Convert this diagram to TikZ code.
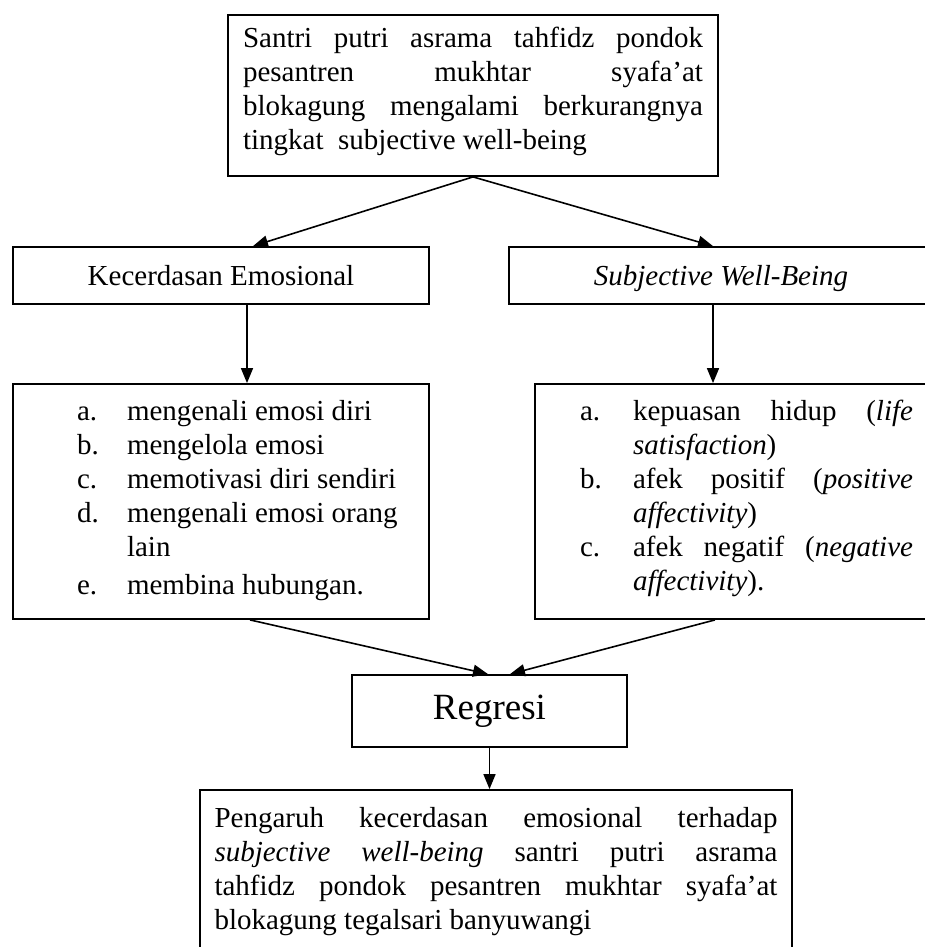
\documentclass[tikz,border=0pt]{standalone}
\usepackage{fontspec}
\setmainfont{Liberation Serif}
\usepackage{enumitem}
\usetikzlibrary{arrows.meta}
\tolerance=10000
\hbadness=10000
\hyphenpenalty=10000
\exhyphenpenalty=10000
\setlist[enumerate]{label=\alph*.,labelsep=10pt,align=left,topsep=0pt,partopsep=0pt,itemsep=0pt,parsep=0pt}

\begin{document}
\begin{tikzpicture}[x=1pt,y=-1pt,
  box/.style={draw,line width=1.8pt,inner sep=0pt,font=\fontsize{29}{34}\selectfont},
  para/.style={box,align=justify},
  arr/.style={line width=1.6pt,-{Triangle[length=15pt,width=12pt]}}]
\useasboundingbox (0,0) rectangle (925,947);
% nodes
\node [box,minimum width=490pt] (top) at (473,95.5) {%
  \begin{minipage}[c][161pt][t]{460pt}\vspace*{12pt}%
  Santri putri asrama tahfidz pondok\linebreak pesantren mukhtar syafa’at\linebreak blokagung mengalami berkurangnya\linebreak tingkat\ \ subjective well-being
  \end{minipage}};

\node [box,minimum width=416pt,minimum height=57pt,text height=19.5pt,text depth=0pt] (ke) at (221,275.5) {Kecerdasan Emosional};
\node [box,minimum width=424pt,minimum height=57pt,text height=19.5pt,text depth=0pt] (swb) at (721,275.5) {\textit{Subjective Well-Being}};

\node [box] (kelist) at (221,501.5) {%
  \begin{minipage}[c][235pt][t]{416pt}\vspace*{16pt}%
  \begin{enumerate}[labelindent=64pt,leftmargin=114pt,labelwidth=40pt,rightmargin=19pt]
  \item mengenali emosi diri
  \item mengelola emosi
  \item memotivasi diri sendiri
  \item mengenali emosi orang\\lain
  \vspace{4pt}
  \item membina hubungan.
  \end{enumerate}
  \hbox to\hsize{}
  \end{minipage}};

\node [box] (swblist) at (738,501.5) {%
  \begin{minipage}[c][235pt][t]{406pt}\vspace*{16pt}%
  \begin{enumerate}[labelindent=45pt,leftmargin=98pt,labelwidth=43pt,rightmargin=28pt]
  \item kepuasan hidup (\textit{life}\linebreak \textit{satisfaction})
  \item afek positif (\textit{positive}\linebreak \textit{affectivity})
  \item afek negatif (\textit{negative}\linebreak \textit{affectivity}).
  \end{enumerate}
  \hbox to\hsize{}
  \end{minipage}};

\node [box,minimum width=275pt,minimum height=72pt,font=\fontsize{37}{44}\selectfont] (reg) at (489.5,711) {Regresi};

\node [para,text width=563pt,minimum width=592pt,minimum height=164pt] (result) at (496,872)
  {Pengaruh kecerdasan emosional terhadap\linebreak \textit{subjective well-being} santri putri asrama\linebreak tahfidz pondok pesantren mukhtar syafa’at\linebreak blokagung tegalsari banyuwangi};

% arrows
\draw [arr] (top.south) -- ([xshift=32pt]ke.north);
\draw [arr] (top.south) -- ([xshift=-8pt]swb.north);
\draw [arr] ([xshift=26pt]ke.south) -- ([xshift=26pt]kelist.north);
\draw [arr] ([xshift=-8pt]swb.south) -- ([xshift=-25pt]swblist.north);
\draw [arr] ([xshift=29pt]kelist.south) -- ([xshift=-1.5pt]reg.north);
\draw [arr] ([xshift=-23pt]swblist.south) -- ([xshift=20.5pt]reg.north);
\draw [arr] (reg.south) -- (reg.south |- result.north);

\end{tikzpicture}
\end{document}
